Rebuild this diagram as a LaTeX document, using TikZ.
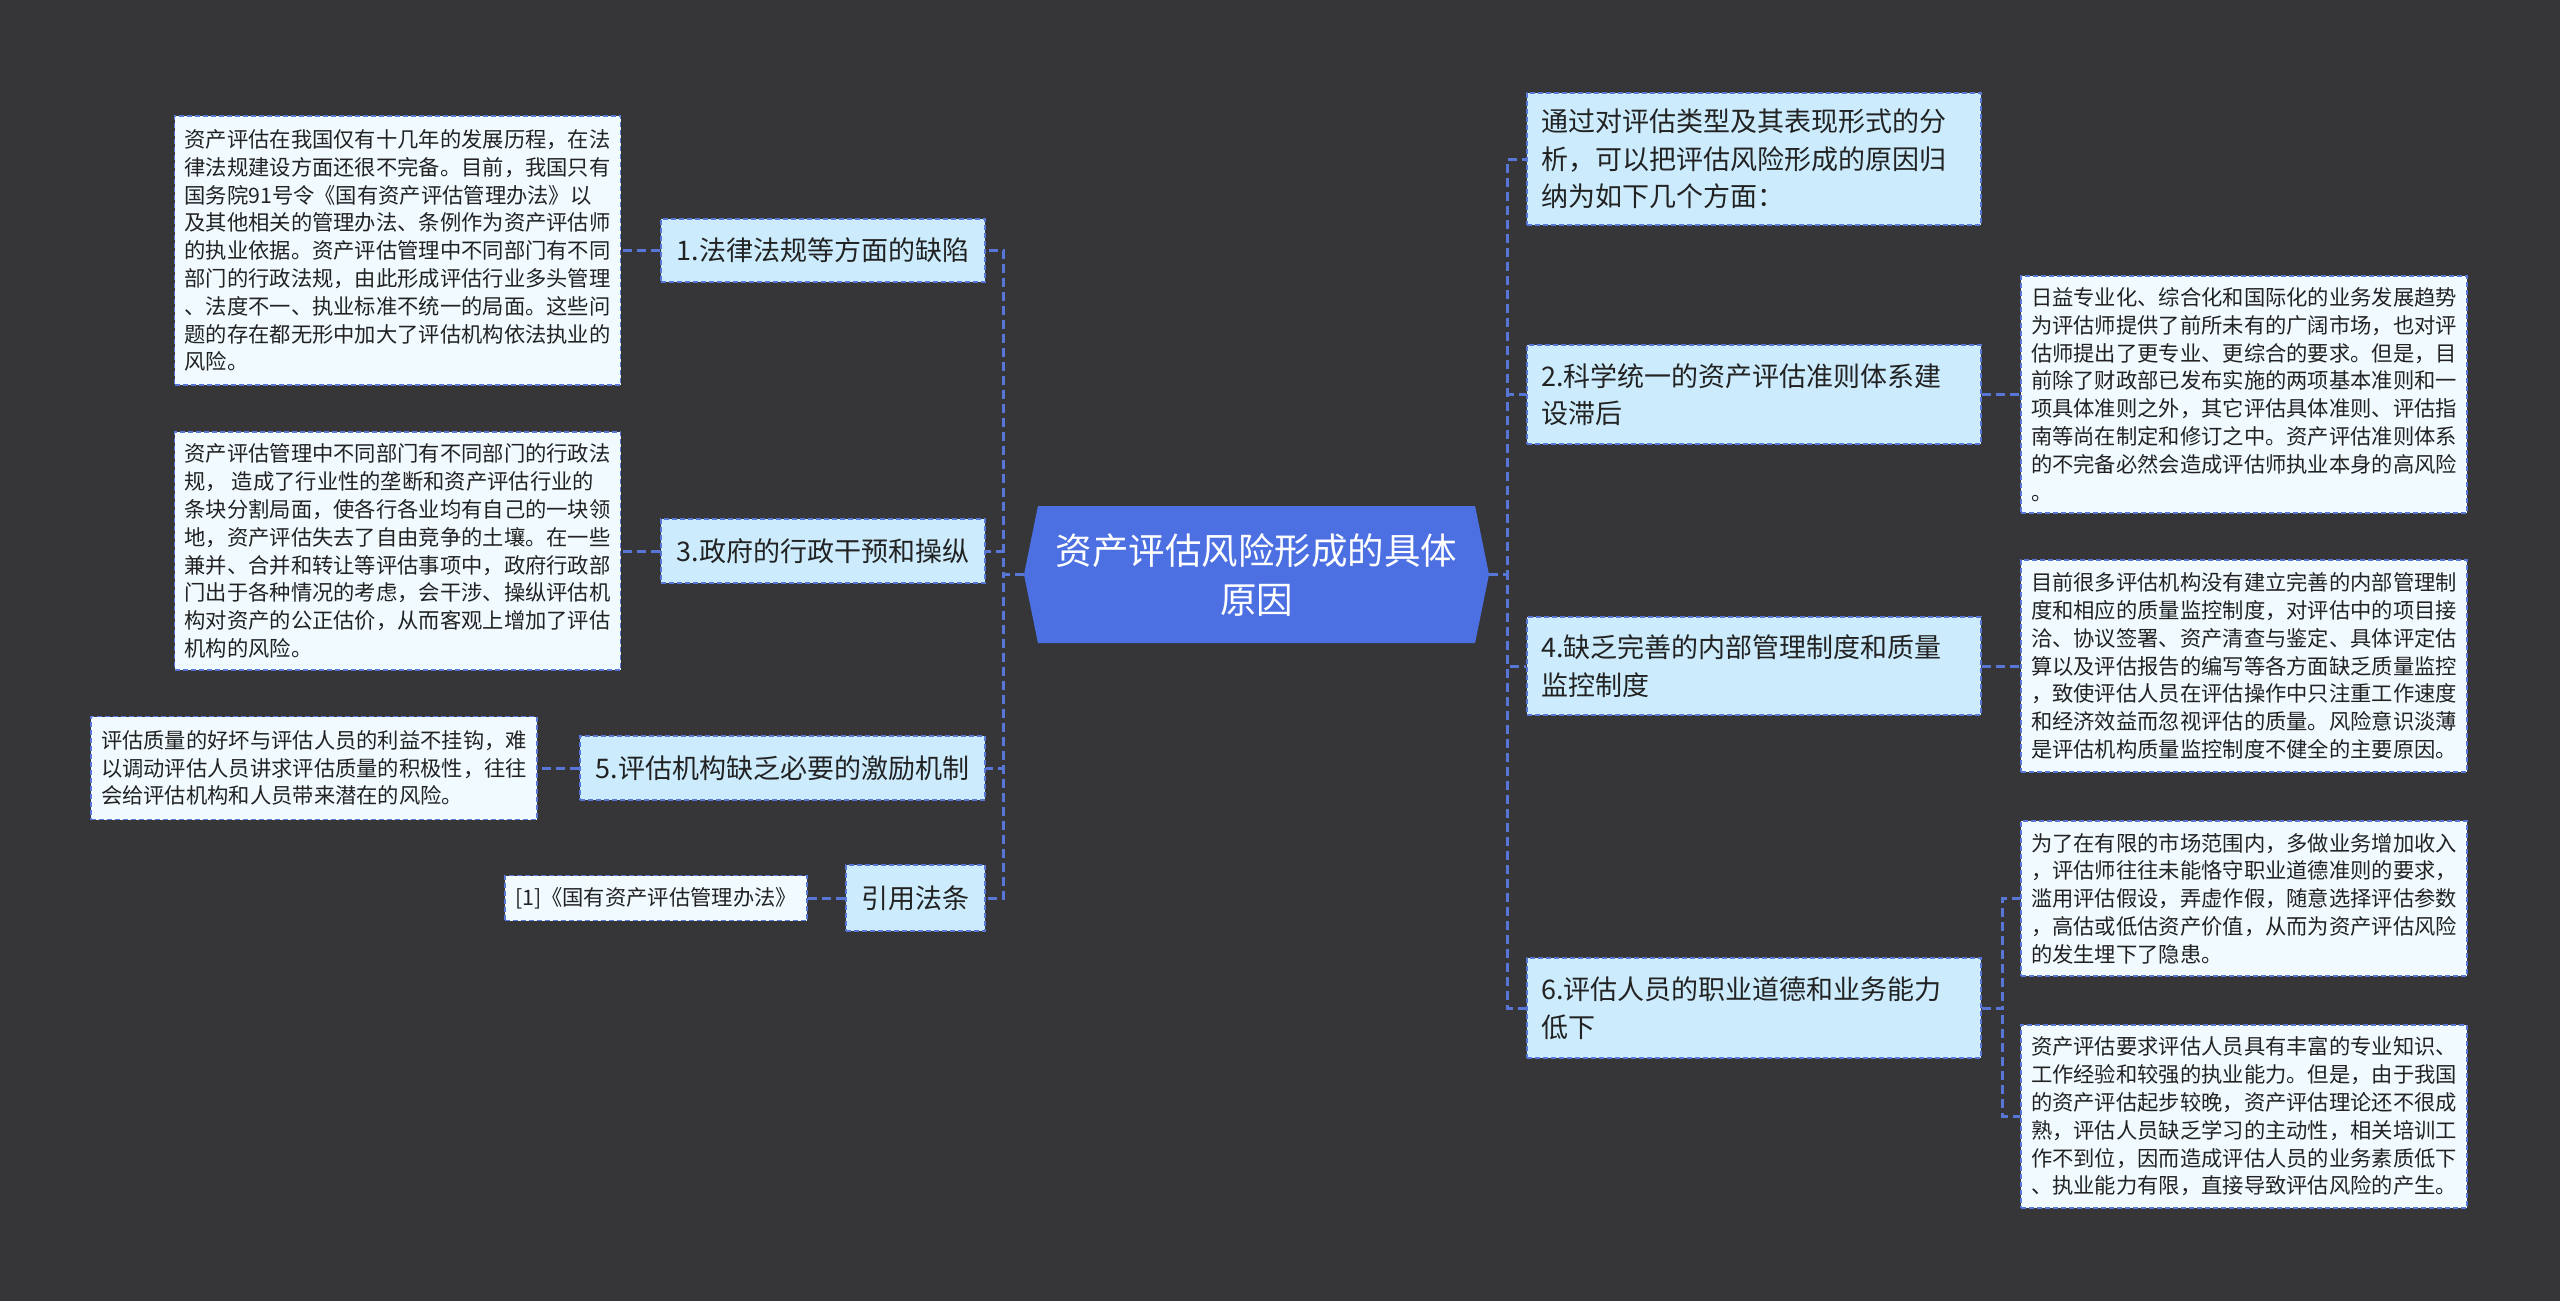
\documentclass[tikz,border=0pt]{standalone}
\usepackage{fontspec}
\setmainfont{Noto Sans CJK SC}
\usepackage{tikz}
\usetikzlibrary{shapes.symbols}
\definecolor{bgdark}{RGB}{54,54,56}
\definecolor{rootblue}{RGB}{76,112,226}
\definecolor{linkblue}{RGB}{88,118,214}
\definecolor{branchfill}{RGB}{204,236,253}
\definecolor{detailfill}{RGB}{241,251,255}
\definecolor{textdark}{RGB}{34,34,34}

\begin{document}
\begin{tikzpicture}[
            x=1pt, y=-1pt,
            root/.style={shape=signal, signal to=west and east, signal pointer angle=157,
                       fill=rootblue, text=white, align=center, inner sep=0pt,
                       minimum width=465pt, minimum height=137pt,
                       font=\fontsize{36.5}{49}\selectfont},
            branch/.style={draw=linkblue, line width=1.8pt, dash pattern=on 5pt off 3pt,
                       fill=branchfill, text=textdark, inner xsep=14pt, inner ysep=0pt,
                       font=\fontsize{27}{37.5}\selectfont},
            sidebranch/.style={branch, text width=426pt, align=left},
            detail/.style={draw=linkblue, line width=1.8pt, dash pattern=on 5pt off 3pt,
                       fill=detailfill, text=textdark, align=left, inner xsep=9pt, inner ysep=0pt,
                       minimum width=446pt, font=\fontsize{21.3}{27.8}\selectfont},
            link/.style={draw=linkblue, line width=3pt, dash pattern=on 9pt off 5pt}
        ]
            \path[use as bounding box, fill=bgdark] (0,0) rectangle (2560,1301);

            \node[root] (root) at (1256.5,574.5) {资产评估风险形成的具体\\原因};

            % left side
            \node[branch, minimum width=324pt, minimum height=63pt] (law) at (823,250.5) {1.法律法规等方面的缺陷};
            \node[branch, minimum width=324pt, minimum height=64pt] (gov) at (823,551) {3.政府的行政干预和操纵};
            \node[branch, minimum width=405pt, minimum height=64pt] (incent) at (782.5,768) {5.评估机构缺乏必要的激励机制};
            \node[branch, minimum width=139pt, minimum height=66pt] (cite) at (915.5,898) {引用法条};

            \node[detail, minimum height=269pt] (lawtxt) at (397.5,250.5) {资产评估在我国仅有十几年的发展历程，在法\\律法规建设方面还很不完备。目前，我国只有\\国务院91号令《国有资产评估管理办法》以\\及其他相关的管理办法、条例作为资产评估师\\的执业依据。资产评估管理中不同部门有不同\\部门的行政法规，由此形成评估行业多头管理\\、法度不一、执业标准不统一的局面。这些问\\题的存在都无形中加大了评估机构依法执业的\\风险。};
            \node[detail, minimum height=238pt] (govtxt) at (397.5,551) {资产评估管理中不同部门有不同部门的行政法\\规， 造成了行业性的垄断和资产评估行业的\\条块分割局面，使各行各业均有自己的一块领\\地，资产评估失去了自由竞争的土壤。在一些\\兼并、合并和转让等评估事项中，政府行政部\\门出于各种情况的考虑，会干涉、操纵评估机\\构对资产的公正估价，从而客观上增加了评估\\机构的风险。};
            \node[detail, minimum height=103pt] (incenttxt) at (314,768) {评估质量的好坏与评估人员的利益不挂钩，难\\以调动评估人员讲求评估质量的积极性，往往\\会给评估机构和人员带来潜在的风险。};
            \node[detail, minimum width=302pt, minimum height=45pt] (citetxt) at (656,898) {[1]《国有资产评估管理办法》};

            % right side
            \node[sidebranch, minimum height=132pt] (intro) at (1754,159) {通过对评估类型及其表现形式的分\\析，可以把评估风险形成的原因归\\纳为如下几个方面：};
            \node[sidebranch, minimum height=99pt] (std) at (1754,394.5) {2.科学统一的资产评估准则体系建\\设滞后};
            \node[sidebranch, minimum height=98pt] (mgmt) at (1754,666) {4.缺乏完善的内部管理制度和质量\\监控制度};
            \node[sidebranch, minimum height=100pt] (ethic) at (1754,1008) {6.评估人员的职业道德和业务能力\\低下};

            \node[detail, minimum height=237pt] (stdtxt) at (2244,394.5) {日益专业化、综合化和国际化的业务发展趋势\\为评估师提供了前所未有的广阔市场，也对评\\估师提出了更专业、更综合的要求。但是，目\\前除了财政部已发布实施的两项基本准则和一\\项具体准则之外，其它评估具体准则、评估指\\南等尚在制定和修订之中。资产评估准则体系\\的不完备必然会造成评估师执业本身的高风险\\。};
            \node[detail, minimum height=212pt] (mgmttxt) at (2244,666) {目前很多评估机构没有建立完善的内部管理制\\度和相应的质量监控制度，对评估中的项目接\\洽、协议签署、资产清查与鉴定、具体评定估\\算以及评估报告的编写等各方面缺乏质量监控\\，致使评估人员在评估操作中只注重工作速度\\和经济效益而忽视评估的质量。风险意识淡薄\\是评估机构质量监控制度不健全的主要原因。};
            \node[detail, minimum height=155pt] (ethictxta) at (2244,898.5) {为了在有限的市场范围内，多做业务增加收入\\，评估师往往未能恪守职业道德准则的要求，\\滥用评估假设，弄虚作假，随意选择评估参数\\，高估或低估资产价值，从而为资产评估风险\\的发生埋下了隐患。};
            \node[detail, minimum height=183pt] (ethictxtb) at (2244,1116.5) {资产评估要求评估人员具有丰富的专业知识、\\工作经验和较强的执业能力。但是，由于我国\\的资产评估起步较晚，资产评估理论还不很成\\熟，评估人员缺乏学习的主动性，相关培训工\\作不到位，因而造成评估人员的业务素质低下\\、执业能力有限，直接导致评估风险的产生。};

            \draw[link] (root.west) -- ++(-20,0) |- (law.east);
            \draw[link] (root.west) -- ++(-20,0) |- (gov.east);
            \draw[link] (root.west) -- ++(-20,0) |- (incent.east);
            \draw[link] (root.west) -- ++(-20,0) |- (cite.east);
            \draw[link] (root.east) -- ++(18,0) |- (intro.west);
            \draw[link] (root.east) -- ++(18,0) |- (std.west);
            \draw[link] (root.east) -- ++(18,0) |- (mgmt.west);
            \draw[link] (root.east) -- ++(18,0) |- (ethic.west);

            \draw[link] (law.west) -- (lawtxt.east);
            \draw[link] (gov.west) -- (govtxt.east);
            \draw[link] (incent.west) -- (incenttxt.east);
            \draw[link] (cite.west) -- (citetxt.east);
            \draw[link] (std.east) -- (stdtxt.west);
            \draw[link] (mgmt.east) -- (mgmttxt.west);
            \draw[link] (ethic.east) -- ++(21,0) |- (ethictxta.west);
            \draw[link] (ethic.east) -- ++(21,0) |- (ethictxtb.west);
        \end{tikzpicture}
\end{document}
